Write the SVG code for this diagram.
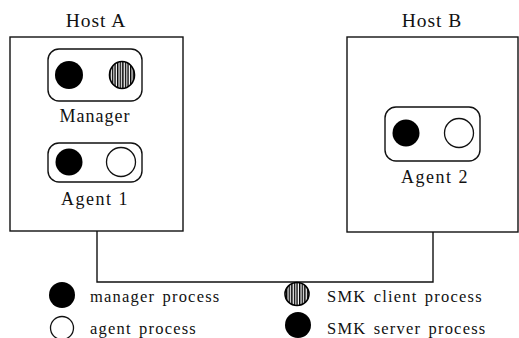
<svg xmlns="http://www.w3.org/2000/svg" width="519" height="338" viewBox="0 0 519 338">
<style>
.host{fill:#fff;stroke:#111;stroke-width:1.4}
.proc{fill:none;stroke:#111;stroke-width:1.4}
.blk{fill:#000}
.wht{fill:#fff;stroke:#111;stroke-width:1.3}
.hat{fill:url(#vstripe);stroke:#000;stroke-width:1.6}
.lbl{font-family:"Liberation Serif","Times New Roman",serif;font-size:18px;fill:#111;text-anchor:middle;letter-spacing:1px}
.ttl{font-size:19.5px;letter-spacing:1px}
.ag{letter-spacing:1.5px}
.leg{font-family:"Liberation Serif","Times New Roman",serif;font-size:16.5px;fill:#111;letter-spacing:1.2px;word-spacing:2px}
.wire{fill:none;stroke:#111;stroke-width:1.4}
</style>
<defs>
<pattern id="vstripe" patternUnits="userSpaceOnUse" width="2.6" height="4">
<rect width="2.6" height="4" fill="#fff"/>
<rect width="1.4" height="4" fill="#000"/>
</pattern>
</defs>
<rect width="519" height="338" fill="#fff"/>
<g id="connectors">
<polyline class="wire" points="97,231 97,282 433,282 433,232"/>
</g>
<g id="hostA">
<rect class="host" x="10" y="37" width="173" height="194"/>
<text class="lbl ttl" x="96" y="27">Host A</text>
</g>
<g id="hostB">
<rect class="host" x="347" y="37" width="171" height="195"/>
<text class="lbl ttl" x="432" y="27">Host B</text>
</g>
<g id="manager">
<rect class="proc" x="48" y="49" width="94" height="52" rx="11"/>
<circle class="blk" cx="69" cy="75" r="14"/>
<ellipse class="hat" cx="122" cy="75" rx="12.5" ry="13.5"/>
<text class="lbl" x="95" y="122">Manager</text>
</g>
<g id="agent1">
<rect class="proc" x="48" y="143" width="94" height="39" rx="11"/>
<circle class="blk" cx="69" cy="162" r="13.5"/>
<circle class="wht" cx="121" cy="162" r="14.5"/>
<text class="lbl ag" x="95" y="205">Agent 1</text>
</g>
<g id="agent2">
<rect class="proc" x="385" y="107" width="95" height="54" rx="11"/>
<circle class="blk" cx="406" cy="133" r="13.5"/>
<circle class="wht" cx="459" cy="133" r="14.5"/>
<text class="lbl ag" x="435" y="183">Agent 2</text>
</g>
<g id="legend">
<circle class="blk" cx="62" cy="295" r="13"/>
<text class="leg" x="90" y="302">manager process</text>
<circle class="wht" cx="62" cy="328" r="11.5"/>
<text class="leg" x="90" y="334">agent process</text>
<ellipse class="hat" cx="297" cy="294" rx="12" ry="11.5"/>
<text class="leg" x="327" y="302">SMK client process</text>
<circle class="blk" cx="298" cy="325" r="13"/>
<text class="leg" x="327" y="334">SMK server process</text>
</g>
</svg>
